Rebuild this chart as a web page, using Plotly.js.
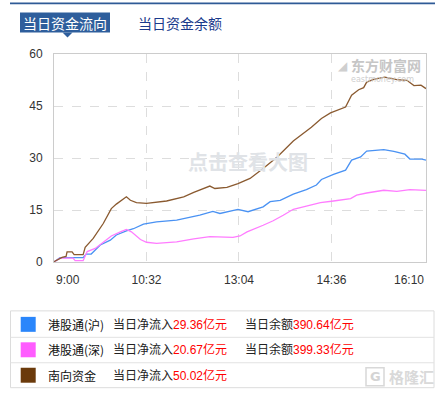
<!DOCTYPE html>
<html><head><meta charset="utf-8">
<script src="https://cdn.plot.ly/plotly-3.0.1.min.js"></script>
<style>html,body{margin:0;padding:0;background:#fff;}#chart{width:440px;height:395px;}</style>
</head><body><div id="chart"></div>
<script>
// ---- data (亿元) ----
const tickLabels = ['9:00','10:32','13:04','14:36','16:10'];
const yTicks = [0,15,30,45,60];

const shTimes  = ['9:00','9:06','9:29','9:32','9:37','9:46','9:56','10:02','10:12','10:19','10:29','10:42','11:02','11:25','11:38','11:45','13:03','13:13','13:28','13:35','13:45','13:58','14:11','14:21','14:26','14:38','14:50','14:56','15:05','15:11','15:28','15:38','15:49','15:54','16:06','16:10'];
const shValues = [0,1.25,1.25,2.3,2.3,4.9,6.3,7.8,9.0,9.6,10.9,11.6,12.1,13.5,14.6,14.0,15.2,14.5,15.9,17.4,17.8,19.6,20.9,22.2,23.8,25.3,26.5,29.4,30.3,32.0,32.4,31.9,31.1,29.7,29.7,29.36];

const szTimes  = ['9:00','9:06','9:19','9:21','9:29','9:33','9:41','9:49','9:57','10:06','10:12','10:17','10:26','10:32','10:42','11:02','11:19','11:35','11:58','13:05','13:12','13:28','13:38','13:48','13:58','14:11','14:25','14:38','14:55','15:01','15:11','15:28','15:41','15:54','16:10'];
const szValues = [0,1.1,1.1,0.4,0.4,3.0,3.9,5.8,7.5,8.7,9.4,8.7,6.5,5.7,5.4,5.8,6.7,7.3,7.1,7.5,8.7,10.6,11.9,13.5,15.2,16.1,17.1,17.6,18.3,19.3,19.9,20.7,20.4,20.9,20.67];

const snTimes  = ['9:00','9:08','9:12','9:13','9:18','9:20','9:29','9:31','9:39','9:49','9:57','10:02','10:12','10:16','10:22','10:32','10:52','11:09','11:19','11:35','11:40','11:52','13:03','13:15','13:28','13:42','13:58','14:16','14:26','14:35','14:50','14:56','15:03','15:08','15:11','15:18','15:29','15:41','15:51','15:58','16:05','16:10'];
const snValues = [0.1,1.35,1.6,2.9,2.9,2.1,2.1,4.2,6.8,11.1,15.4,16.7,18.8,17.8,17.1,16.9,17.6,18.8,20.1,21.9,21.2,21.5,22.6,24.1,27.0,30.3,34.9,38.9,41.4,43.0,44.7,48.1,49.7,50.3,51.9,52.7,53.3,52.6,52.4,50.9,51.0,50.02];

const seriesNames = ['港股通(沪)','港股通(深)','南向资金'];
const netInflow   = ['29.36','20.67','50.02'];
const balance     = ['390.64','399.33',null];
const lineColors  = ['#4a92f3','#ff7cff','#8a5a30'];
const boxColors   = ['#2a86fb','#ff5cff','#6b3a0b'];

// trading-minute index (12:00 and 13:00 coincide)
function idx(t){const p=t.split(':').map(Number);const h=p[0],m=p[1];return h<13?(h-9)*60+m:180+(h-13)*60+m;}

// ---- pixel helpers for decorations ----
const L=54,R=426,T=53.5,B=262;
const px=x=>(x-L)/(R-L);
const py=y=>(B-y)/(B-T);

const traces=[[shTimes,shValues],[szTimes,szValues],[snTimes,snValues]].map((s,i)=>({
  x:s[0].map(idx), y:s[1], type:'scatter', mode:'lines', name:seriesNames[i],
  line:{color:lineColors[i],width:1.3}, hoverinfo:'skip'
}));

const shapes=[];
const ann=[];
function rect(x0,y0,x1,y1,fill,line){shapes.push({type:'rect',xref:'paper',yref:'paper',x0:px(x0),x1:px(x1),y0:py(y1),y1:py(y0),fillcolor:fill||'rgba(0,0,0,0)',line:line||{width:0},layer:'above'});}
function hline(x0,x1,y,color,w){shapes.push({type:'line',xref:'paper',yref:'paper',x0:px(x0),x1:px(x1),y0:py(y),y1:py(y),line:{color:color,width:w}});}
function text(x,y,t,opt){ann.push(Object.assign({xref:'paper',yref:'paper',x:px(x),y:py(y),text:t,showarrow:false,xanchor:'left',yanchor:'middle',font:{family:'Liberation Sans, Noto Sans CJK SC, sans-serif',size:12,color:'#222'}},opt||{}));}

// top bar + tabs
hline(10,435,2.8,'#2f5a96',1.8);
rect(20,12,110,32,'#2e5e9c');
shapes.push({type:'path',xref:'paper',yref:'paper',path:`M ${px(62.5)} ${py(32)} L ${px(72.5)} ${py(32)} L ${px(67.5)} ${py(37)} Z`,fillcolor:'#2e5e9c',line:{width:0}});
text(65,22,'当日资金流向',{xanchor:'center',font:{family:'Noto Sans CJK SC',size:14,color:'#ffffff'}});
text(180,22,'当日资金余额',{xanchor:'center',font:{family:'Noto Sans CJK SC',size:14,color:'#1a3a8c'}});

// watermarks
text(247.5,161,'点击查看大图',{xanchor:'center',font:{family:'Noto Sans CJK SC',size:20,color:'#e0e3e7',weight:700}});
text(386,65,'东方财富网',{xanchor:'center',font:{family:'Noto Sans CJK SC',size:14,color:'#c6c6c6',weight:700}});
text(382,79.5,'eastmoney.com',{xanchor:'center',font:{family:'DejaVu Sans',size:8,color:'#cfcfcf'}});
text(343,66,'◢',{xanchor:'center',font:{family:'DejaVu Sans',size:12,color:'#cfcfcf'}});

// x tick labels at the two ends (first left-aligned, last right-aligned)
ann.push({xref:'x',yref:'paper',x:0,y:py(280),text:tickLabels[0],showarrow:false,xanchor:'left',yanchor:'middle',font:{family:'Liberation Sans, sans-serif',size:12,color:'#333'}});
ann.push({xref:'x',yref:'paper',x:idx(tickLabels[4]),y:py(280),text:tickLabels[4],showarrow:false,xanchor:'right',yanchor:'middle',font:{family:'Liberation Sans, sans-serif',size:12,color:'#333'}});

// legend table
rect(10.5,311,434,388,null,{color:'#dcdcdc',width:1});
hline(10.5,434,337.5,'#e2e2e2',1);
hline(10.5,434,363,'#e2e2e2',1);
const rowY=[324.5,350,375.5];
seriesNames.forEach((n,i)=>{
  const y=rowY[i];
  rect(20.7,y-7.5,35.7,y+7.5,boxColors[i]);
  text(45.5,y,n,{font:{family:'Noto Sans CJK SC',size:12,color:'#111'}});
  text(111,y,'当日净流入<span style="color:#ff0000">'+netInflow[i]+'亿元</span>');
  if(balance[i]) text(243,y,'当日余额<span style="color:#ff0000">'+balance[i]+'亿元</span>');
});
// 格隆汇 watermark
rect(366,368,384,386,'rgba(0,0,0,0)',{color:'#d8d8d8',width:1.5});
text(375,377,'G',{xanchor:'center',font:{family:'DejaVu Sans',size:13,color:'#d4d4d4',weight:700}});
text(387,377,'格隆汇',{font:{family:'Noto Sans CJK SC',size:15,color:'#d9d9d9',weight:700}});

const mid=tickLabels.map(idx);
const layout={
  width:440,height:395,margin:{l:L,r:440-R,t:T,b:395-B,pad:0},
  paper_bgcolor:'#ffffff',plot_bgcolor:'#ffffff',showlegend:false,
  xaxis:{range:[0,370],tickvals:mid,ticktext:['',tickLabels[1],tickLabels[2],tickLabels[3],''],
    showgrid:true,gridcolor:'#dddddd',griddash:'dash',gridwidth:1,zeroline:false,
    showline:true,linecolor:'#cccccc',linewidth:1,mirror:true,ticks:'',ticklabelstandoff:7,
    tickfont:{family:'Liberation Sans, sans-serif',size:12,color:'#333'},fixedrange:true},
  yaxis:{range:[0,60],tickvals:yTicks,showgrid:true,gridcolor:'#dddddd',griddash:'dash',gridwidth:1,zeroline:false,
    showline:true,linecolor:'#cccccc',linewidth:1,mirror:true,ticks:'',ticklabelstandoff:8,
    tickfont:{family:'Liberation Sans, sans-serif',size:12,color:'#333'},fixedrange:true},
  shapes:shapes,annotations:ann
};
Plotly.newPlot('chart',traces,layout,{displayModeBar:false,staticPlot:true});
</script></body></html>
